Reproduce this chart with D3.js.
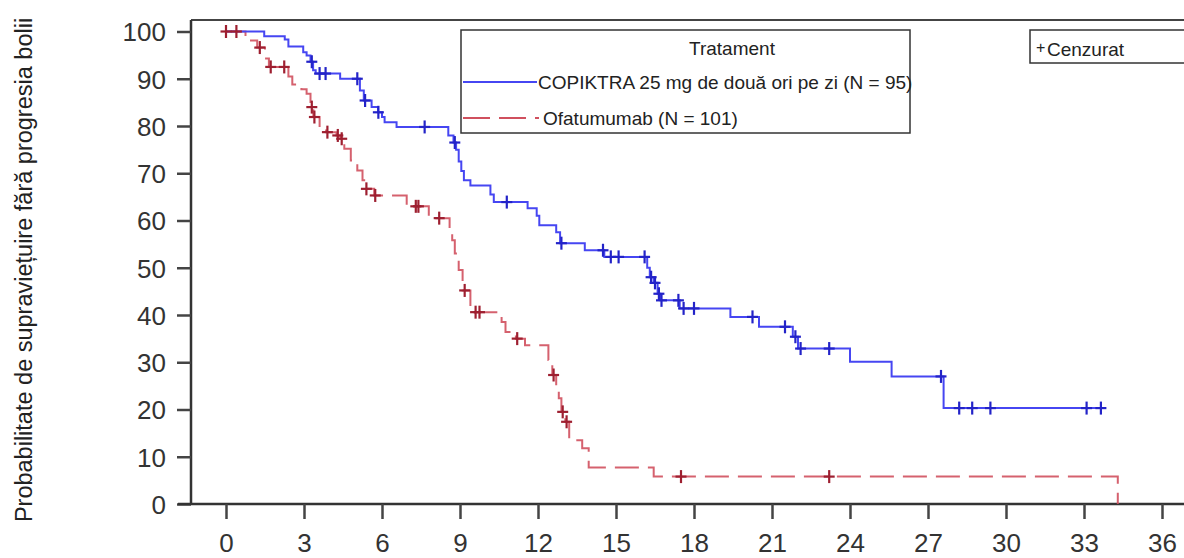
<!DOCTYPE html>
<html>
<head>
<meta charset="utf-8">
<script src="https://cdn.jsdelivr.net/npm/d3@7"></script>
<style>
  body { margin: 0; background: #fff; }
  svg { display: block; font-family: "Liberation Sans", Arial, sans-serif; }
</style>
</head>
<body>
<svg id="chart"></svg>
<script>
// step points [months, survival %]
let blueSteps = [
    [0, 100], [1.47, 99], [2.26, 98.3], [2.4, 96.8], [2.97, 95.6], [3.1, 94.9],
    [3.25, 93.6], [3.35, 91.8], [3.45, 91.1], [4.39, 90.0], [5.15, 87.5], [5.3, 85.4],
    [5.6, 84.0], [5.85, 82.9], [6.0, 81.9], [6.1, 80.8], [6.56, 79.8], [8.55, 78.0],
    [8.75, 76.5], [8.85, 75.0], [8.95, 72.5], [9.05, 70.5], [9.15, 68.5], [9.4, 67.4],
    [10.17, 65.5], [10.3, 63.9], [11.6, 62.6], [11.95, 61.0], [12.05, 59.0], [12.7, 57.5],
    [12.85, 55.2], [13.8, 53.7], [14.55, 52.3], [16.2, 50.0], [16.3, 48.0], [16.45, 46.8],
    [16.6, 44.5], [16.7, 43.1], [17.45, 41.4], [19.4, 39.6], [20.5, 37.5], [21.8, 35.4],
    [22.0, 32.9], [24.0, 30.1], [25.6, 27.0], [27.6, 20.3], [33.65, 20.3]
];
let redSteps = [
    [0, 100], [0.75, 98.1], [1.2, 96.6], [1.5, 94.3], [1.65, 92.5], [2.4, 90.5],
    [2.55, 88.8], [2.9, 87.8], [3.1, 86.8], [3.25, 84.0], [3.36, 81.9], [3.6, 79.4],
    [3.85, 78.7], [4.25, 78.0], [4.4, 77.3], [4.55, 75.2], [4.8, 72.7], [5.05, 70.6],
    [5.25, 68.5], [5.4, 66.7], [5.7, 65.3], [6.95, 63.0], [7.8, 60.5], [8.6, 58.0],
    [8.7, 55.8], [8.8, 53.0], [8.95, 49.5], [9.1, 45.2], [9.4, 41.4], [9.55, 40.6],
    [10.6, 38.5], [10.75, 36.4], [11.15, 35.0], [11.5, 33.6], [12.4, 30.5], [12.55, 27.3],
    [12.7, 24.0], [12.8, 22.4], [12.9, 19.5], [13.05, 17.4], [13.2, 13.5], [13.7, 11.8],
    [13.95, 7.7], [16.45, 5.8], [34.3, 0]
];
// censored times (months)
let blueCensored = [3.3, 3.6, 3.83, 5.05, 5.35, 5.86, 7.64, 8.8, 10.8, 12.9, 14.5, 14.8,
    15.1, 16.1, 16.35, 16.5, 16.65, 16.75, 17.4, 17.6, 18.0, 20.25, 21.5, 21.9, 22.1,
    23.2, 27.5, 28.2, 28.7, 29.4, 33.1, 33.65];
let redCensored = [0, 0.4, 1.3, 1.72, 2.24, 3.3, 3.4, 3.9, 4.3, 4.45, 5.4, 5.74, 7.3,
    7.4, 8.2, 9.18, 9.6, 9.75, 11.2, 12.6, 12.95, 13.1, 17.5, 23.2];
let xTicks = [0, 3, 6, 9, 12, 15, 18, 21, 24, 27, 30, 33, 36];
let yTicks = [0, 10, 20, 30, 40, 50, 60, 70, 80, 90, 100];
let seriesNames = ["COPIKTRA 25 mg de două ori pe zi (N = 95)", "Ofatumumab (N = 101)"];

let width = 1184, height = 558;
let svg = d3.select("#chart").attr("width", width).attr("height", height);

let x = d3.scaleLinear().domain([0, 36]).range([226, 1162]);
let y = d3.scaleLinear().domain([0, 100]).range([504, 31.5]);
let axisX = 191, topY = 20;

function valueAt(steps, t) {
    let i = d3.bisector(d => d[0]).right(steps, t) - 1;
    return steps[Math.max(0, i)][1];
}

// frame
svg.append("line").attr("x1", axisX).attr("x2", width)
    .attr("y1", topY).attr("y2", topY)
    .attr("stroke", "#444").attr("stroke-width", 2);

// axes
let yAxis = svg.append("g").attr("transform", `translate(${axisX},0)`)
    .call(d3.axisLeft(y).tickValues(yTicks).tickSize(14).tickPadding(11));
yAxis.select(".domain").attr("d", `M0,${topY}V${y(0)}`);
yAxis.selectAll(".tick text").attr("dy", "0.36em");
let xAxis = svg.append("g").attr("transform", `translate(0,${y(0)})`)
    .call(d3.axisBottom(x).tickValues(xTicks).tickSize(15).tickPadding(15));
xAxis.select(".domain").attr("d", `M178,0H${width}`);
svg.selectAll(".tick text").attr("font-size", 26).attr("fill", "#333")
    .attr("font-family", "Liberation Sans, Arial, sans-serif");
svg.selectAll(".domain").attr("stroke", "#333").attr("stroke-width", 2.5);
svg.selectAll(".tick line").attr("stroke", "#444").attr("stroke-width", 2.5);

svg.append("text")
    .attr("transform", "translate(32,270) rotate(-90)")
    .attr("text-anchor", "middle")
    .attr("font-size", 23.5).attr("fill", "#222")
    .text("Probabilitate de supraviețuire fără progresia bolii");

// curves
let stepLine = d3.line().x(d => x(d[0])).y(d => y(d[1])).curve(d3.curveStepAfter);
svg.append("path").datum(redSteps).attr("d", stepLine)
    .attr("fill", "none").attr("stroke", "#d0505e").attr("stroke-width", 2)
    .attr("stroke-dasharray", "24,9").attr("opacity", 0.9);
svg.append("path").datum(blueSteps).attr("d", stepLine)
    .attr("fill", "none").attr("stroke", "#4646f2").attr("stroke-width", 2);

function drawCensors(times, steps, color) {
    let g = svg.append("g").attr("stroke", color).attr("stroke-width", 2.2);
    times.forEach(t => {
        let cx = x(t), cy = y(valueAt(steps, t));
        g.append("line").attr("x1", cx - 5.5).attr("x2", cx + 5.5).attr("y1", cy).attr("y2", cy);
        g.append("line").attr("x1", cx).attr("x2", cx).attr("y1", cy - 6.5).attr("y2", cy + 6.5);
    });
}
drawCensors(redCensored, redSteps, "#9e1f30");
drawCensors(blueCensored, blueSteps, "#2323c8");

// legend
let lg = svg.append("g");
lg.append("rect").attr("x", 461).attr("y", 30).attr("width", 449).attr("height", 103)
    .attr("fill", "#fff").attr("stroke", "#333").attr("stroke-width", 1.5);
lg.append("text").attr("x", 732).attr("y", 55).attr("text-anchor", "middle")
    .attr("font-size", 19).attr("fill", "#222").text("Tratament");
lg.append("line").attr("x1", 463).attr("x2", 537).attr("y1", 82).attr("y2", 82)
    .attr("stroke", "#4646f2").attr("stroke-width", 2);
lg.append("text").attr("x", 538).attr("y", 89).attr("font-size", 19)
    .attr("fill", "#222").text(seriesNames[0]);
lg.append("line").attr("x1", 463).attr("x2", 539).attr("y1", 118).attr("y2", 118)
    .attr("stroke", "#d0505e").attr("stroke-width", 2).attr("stroke-dasharray", "27,9");
lg.append("text").attr("x", 543).attr("y", 125).attr("font-size", 19)
    .attr("fill", "#222").text(seriesNames[1]);

let cg = svg.append("g");
cg.append("rect").attr("x", 1030).attr("y", 30).attr("width", 170).attr("height", 33)
    .attr("fill", "#fff").attr("stroke", "#333").attr("stroke-width", 1.5);
cg.append("text").attr("x", 1036).attr("y", 53).attr("font-size", 16)
    .attr("fill", "#222").text("+");
cg.append("text").attr("x", 1047).attr("y", 56).attr("font-size", 19)
    .attr("fill", "#222").text("Cenzurat");
</script>
</body>
</html>
